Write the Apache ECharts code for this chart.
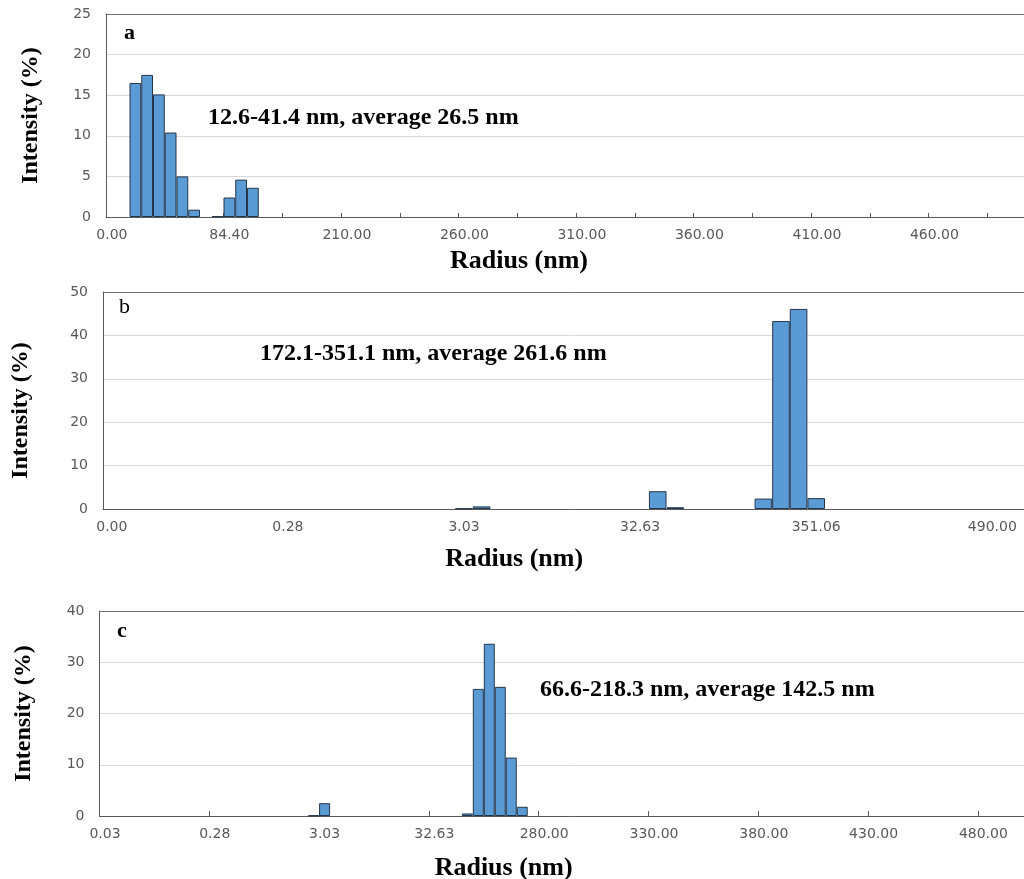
<!DOCTYPE html>
<html>
<head>
<meta charset="utf-8">
<script src="https://cdn.jsdelivr.net/npm/echarts@6/dist/echarts.min.js"></script>
<style>
html, body { margin: 0; padding: 0; overflow: hidden; background: #fff; }
#chart { width: 1060px; height: 879px; }
</style>
</head>
<body>
<div id="chart"></div>
<script>
// ---- Data (bin index along each category axis, intensity %) ----
const binCountA = 80;
const binsA = [2, 3, 4, 5, 6, 7, 9, 10, 11, 12];
const intensityA = [16.5, 17.5, 15.1, 10.4, 5.0, 0.9, 0.1, 2.4, 4.6, 3.6];
const tickLabelsA = ['0.00', '84.40', '210.00', '260.00', '310.00', '360.00', '410.00', '460.00'];

const binCountB = 53;
const binsB = [20, 21, 31, 32, 37, 38, 39, 40];
const intensityB = [0.1, 0.6, 4.1, 0.4, 2.4, 43.3, 46.1, 2.5];
const tickLabelsB = ['0.00', '0.28', '3.03', '32.63', '351.06', '490.00'];

const binCountC = 86;
const binsC = [19, 20, 33, 34, 35, 36, 37, 38];
const intensityC = [0.1, 2.5, 0.5, 24.8, 33.6, 25.2, 11.4, 1.8];
const tickLabelsC = ['0.03', '0.28', '3.03', '32.63', '280.00', '330.00', '380.00', '430.00', '480.00'];

const notes = ['12.6-41.4 nm, average 26.5 nm', '172.1-351.1 nm, average 261.6 nm', '66.6-218.3 nm, average 142.5 nm'];
const panelLetters = ['a', 'b', 'c'];
const xTitle = 'Radius (nm)';
const yTitle = 'Intensity (%)';

// ---- helpers ----
function fullSeries(n, bins, vals) {
  const arr = new Array(n).fill(null);
  bins.forEach((b, i) => { arr[b] = vals[i]; });
  return arr;
}
function cats(n) { const c = []; for (let i = 0; i < n; i++) c.push(String(i)); return c; }

const SERIF = '"Liberation Serif", "Times New Roman", serif';
const SANS = '"DejaVu Sans", Verdana, sans-serif';

const panels = [
  { n: binCountA, data: fullSeries(binCountA, binsA, intensityA), labels: tickLabelsA,
    grid: { left: 106, top: 14, width: 80 * 11.75, height: 203 }, ymax: 25, yint: 5,
    tick: { show: true, interval: 4, inside: true, length: 4 },
    xNameGap: 31, xNamePad: [0, 114, 0, 0], yNameGap: 63, yNamePad: [0, 0, 0, 0] },
  { n: binCountB, data: fullSeries(binCountB, binsB, intensityB), labels: tickLabelsB,
    grid: { left: 103, top: 292, width: 53 * 17.61, height: 217 }, ymax: 50, yint: 10,
    tick: { show: false },
    xNameGap: 37, xNamePad: [0, 111, 0, 0], yNameGap: 70, yNamePad: [0, 20, 0, 0] },
  { n: binCountC, data: fullSeries(binCountC, binsC, intensityC), labels: tickLabelsC,
    grid: { left: 99.5, top: 611, width: 86 * 10.98, height: 205 }, ymax: 40, yint: 10,
    tick: { show: true, interval: 9, inside: true, length: 5 },
    xNameGap: 39, xNamePad: [0, 136, 0, 0], yNameGap: 64, yNamePad: [0, 0, 0, 0] }
];

const grids = [], xAxes = [], yAxes = [], series = [];
panels.forEach((p, i) => {
  grids.push(Object.assign({ containLabel: false, outerBoundsMode: 'none' }, p.grid));
  xAxes.push({
    type: 'category', gridIndex: i, data: cats(p.n), position: 'bottom',
    axisLine: { lineStyle: { color: '#595959', width: 1 } },
    axisTick: Object.assign({ lineStyle: { color: '#595959' } }, p.tick),
    axisLabel: {
      interval: 9, margin: 11, color: '#595959', fontSize: 14, fontFamily: SANS,
      formatter: (v, idx) => p.labels[idx / 10] || ''
    },
    name: xTitle, nameLocation: 'middle', nameGap: p.xNameGap,
    nameTextStyle: { fontFamily: SERIF, fontWeight: 'bold', fontSize: 26, color: '#000', padding: p.xNamePad },
    splitLine: { show: false }
  });
  yAxes.push({
    type: 'value', gridIndex: i, min: 0, max: p.ymax, interval: p.yint,
    axisLine: { show: true, lineStyle: { color: '#595959', width: 1 } },
    axisTick: { show: false },
    axisLabel: { margin: 15, color: '#595959', fontSize: 14, fontFamily: SANS },
    splitLine: { lineStyle: { color: '#d9d9d9', width: 1 } },
    name: yTitle, nameLocation: 'middle', nameRotate: 90, nameGap: p.yNameGap,
    nameTextStyle: { fontFamily: SERIF, fontWeight: 'bold', fontSize: 24, color: '#000', padding: p.yNamePad }
  });
  series.push({
    type: 'bar', xAxisIndex: i, yAxisIndex: i, data: p.data,
    barCategoryGap: '0%',
    itemStyle: { color: '#5b9bd5', borderColor: '#24364b', borderWidth: 1 },
    animation: false
  });
});
// top border of each plot area
panels.forEach((p, i) => {
  xAxes.push({
    type: 'category', gridIndex: i, data: cats(p.n), position: 'top',
    axisLine: { lineStyle: { color: '#6f6f6f', width: 1 } },
    axisTick: { show: false }, axisLabel: { show: false }, splitLine: { show: false }
  });
});

const notePos = [[208, 118], [260, 354], [540, 690]];
const letterPos = [[124, 33], [119, 307], [117, 631]];
const graphics = [];
notes.forEach((t, i) => {
  graphics.push({ type: 'text', x: notePos[i][0], y: notePos[i][1], z: 100,
    style: { text: t, font: 'bold 24px ' + SERIF, fill: '#000', verticalAlign: 'middle', align: 'left' } });
});
panelLetters.forEach((t, i) => {
  graphics.push({ type: 'text', x: letterPos[i][0], y: letterPos[i][1], z: 100,
    style: { text: t, font: (i === 1 ? 'normal ' : 'bold ') + '22px ' + SERIF, fill: '#000', verticalAlign: 'middle', align: 'left' } });
});

const chart = echarts.init(document.getElementById('chart'), null, { renderer: 'canvas' });
chart.setOption({
  animation: false,
  backgroundColor: '#ffffff',
  grid: grids,
  xAxis: xAxes,
  yAxis: yAxes,
  series: series,
  graphic: graphics
});
</script>
</body>
</html>
